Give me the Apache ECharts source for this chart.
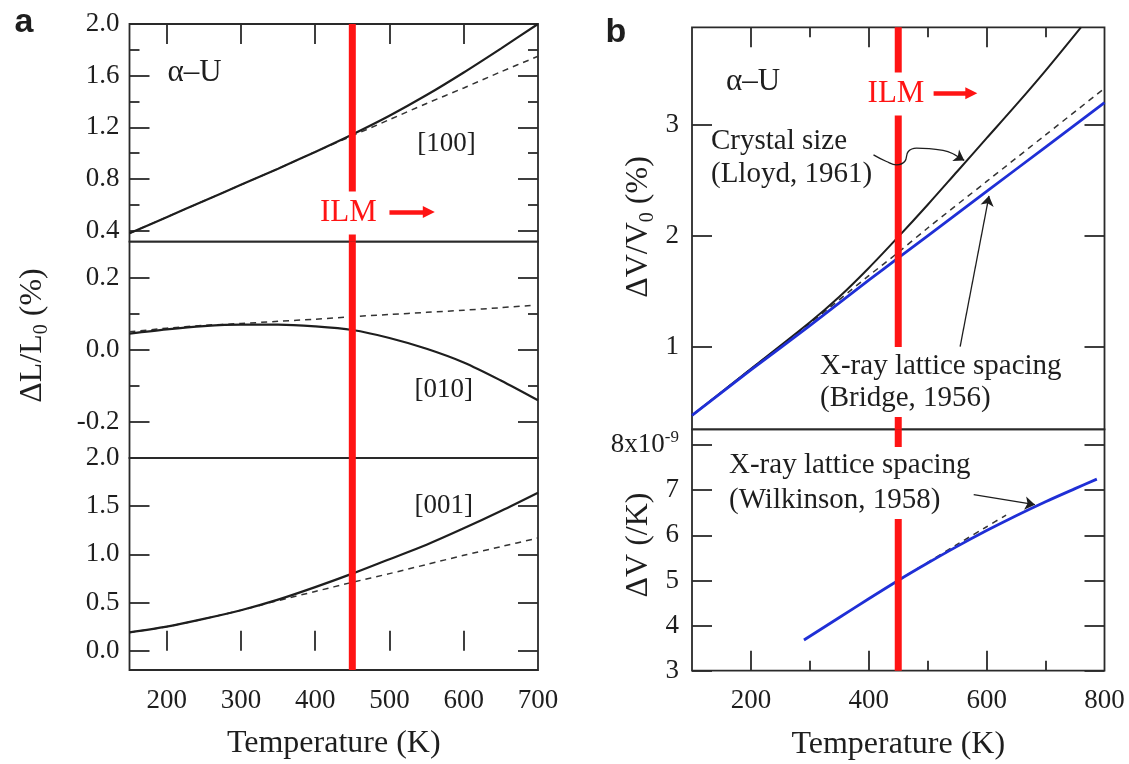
<!DOCTYPE html>
<html>
<head>
<meta charset="utf-8">
<script src="https://cdn.jsdelivr.net/npm/echarts@6/dist/echarts.min.js"></script>
<style>
  html, body { margin: 0; padding: 0; background: #ffffff; }
  #chart { width: 1129px; height: 764px; }
</style>
</head>
<body>
<div id="chart"></div>
<script>
// ---- alpha-U thermal expansion data ----
// (a) linear expansion dL/L0 (%) along the three crystal axes
const tempA = [150, 200, 250, 300, 350, 400, 450, 500, 550, 600, 650, 700];
const dL100 = [0.38, 0.505, 0.63, 0.755, 0.88, 1.01, 1.145, 1.29, 1.45, 1.625, 1.81, 2.0];
const dL100Lin = [0.38, 0.505, 0.63, 0.755, 0.88, 1.01, 1.135, 1.26, 1.385, 1.505, 1.63, 1.75];
const dL010 = [0.045, 0.057, 0.066, 0.070, 0.070, 0.065, 0.055, 0.033, 0.003, -0.035, -0.085, -0.14];
const temp010Lin = [150, 200, 250, 300, 350, 400, 450, 500, 550, 600, 650, 690];
const dL010Lin = [0.05, 0.06, 0.068, 0.073, 0.079, 0.085, 0.092, 0.098, 0.104, 0.110, 0.117, 0.123];
const dL001 = [0.19, 0.25, 0.33, 0.42, 0.53, 0.66, 0.80, 0.95, 1.10, 1.27, 1.45, 1.64];
const dL001Lin = [0.19, 0.25, 0.33, 0.42, 0.52, 0.615, 0.71, 0.80, 0.895, 0.99, 1.08, 1.17];

// (b) volume expansion dV/V0 (%) and volumetric coefficient dV (/K)
const tempLloyd = [100, 200, 300, 350, 400, 450, 500, 550, 600, 650, 700, 760];
const dVLloyd = [0.38, 0.80, 1.22, 1.45, 1.71, 1.99, 2.28, 2.58, 2.88, 3.18, 3.49, 3.88];
const tempBridge = [100, 200, 300, 400, 450, 500, 600, 700, 800];
const dVBridge = [0.38, 0.79, 1.19, 1.60, 1.80, 2.00, 2.40, 2.80, 3.20];
const dVBridgeLin = [0.38, 0.80, 1.21, 1.64, 1.85, 2.07, 2.49, 2.91, 3.33];
const tempWilk = [290, 350, 400, 450, 500, 550, 600, 650, 700, 750, 787];
const coefWilk = [3.68, 4.18, 4.595, 5.0, 5.385, 5.755, 6.105, 6.435, 6.745, 7.035, 7.245];
const tempWilkLin = [450, 500, 550, 600, 633];
const coefWilkLin = [5.0, 5.40, 5.80, 6.19, 6.45];

// onset temperature of the intrinsic localized modes
const ilmTemp = 450;

// tick values
const xTicksA = [200, 300, 400, 500, 600, 700];
const yTicks100 = [0.4, 0.8, 1.2, 1.6, 2.0];
const yMinor100 = [0.6, 1.0, 1.4, 1.8];
const yTicks010 = [-0.2, 0.0, 0.2];
const yMinor010 = [-0.1, 0.1];
const yTicks001 = [0.0, 0.5, 1.0, 1.5, 2.0];
const xTicksB = [200, 400, 600, 800];
const xMinorB = [300, 500, 700];
const yTicksB1 = [1, 2, 3];
const yTicksB2 = [3, 4, 5, 6, 7, 8];

// ---- styling ----
const SERIF = '"Liberation Serif", "Times New Roman", serif';
const INK = '#1e1e1e';
const RED = '#ff1414';
const BLUE = '#1f2fd6';

const rangeXA = [150, 700], rangeXB = [100, 800];
const rA1 = [0.315, 2.0], rA2 = [-0.3, 0.3], rA3 = [-0.2, 2.0];
const rB1 = [0.255, 3.88], rB2 = [3, 8.35];

const grids = [
  { left: 129.5, top: 24,    width: 408.5, height: 217.7 },
  { left: 129.5, top: 241.7, width: 408.5, height: 216.3 },
  { left: 129.5, top: 458,   width: 408.5, height: 212 },
  { left: 692,   top: 27.3,  width: 412.5, height: 402 },
  { left: 692,   top: 429.3, width: 412.5, height: 241.4 }
].map(g => Object.assign({ show: true, borderColor: '#2a2a2a', borderWidth: 1.8, backgroundColor: 'transparent' }, g));

const tickLine = { color: '#2a2a2a', width: 1.8 };
const labelFont = { fontFamily: SERIF, fontSize: 27, color: INK };

const xAxes = [], yAxes = [];
function addX(grid, range, pos, ticks, len, labels, extra) {
  xAxes.push(Object.assign({
    type: 'value', gridIndex: grid, min: range[0], max: range[1], position: pos,
    axisLine: { show: false }, splitLine: { show: false },
    axisTick: ticks ? { show: true, inside: true, length: len, customValues: ticks, lineStyle: tickLine } : { show: false },
    axisLabel: labels ? Object.assign({ show: true, customValues: labels, margin: 17 }, labelFont) : { show: false }
  }, extra || {}));
  return xAxes.length - 1;
}
function addY(grid, range, pos, ticks, len, labels, labelOpts) {
  yAxes.push({
    type: 'value', gridIndex: grid, min: range[0], max: range[1], position: pos,
    axisLine: { show: false }, splitLine: { show: false },
    axisTick: { show: true, inside: true, length: len, customValues: ticks, lineStyle: tickLine },
    axisLabel: labels ? Object.assign({ show: true, customValues: labels }, labelFont, labelOpts || {}) : { show: false }
  });
  return yAxes.length - 1;
}
const fmt1 = v => v.toFixed(1);
const nameStyle = { fontFamily: SERIF, fontSize: 32, color: INK };

// panel (a)
const xa1 = addX(0, rangeXA, 'top', xTicksA.slice(0, 5), 20);
const xa2 = addX(1, rangeXA, 'bottom', null);
const xa3 = addX(2, rangeXA, 'bottom', xTicksA.slice(0, 5), 20, xTicksA,
  { name: 'Temperature (K)', nameLocation: 'middle', nameGap: 58, nameTextStyle: nameStyle });
const ya1 = addY(0, rA1, 'left', yTicks100, 20, yTicks100, { formatter: fmt1, margin: 10 });
addY(0, rA1, 'left', yMinor100, 10);
addY(0, rA1, 'right', yTicks100, 20);
addY(0, rA1, 'right', yMinor100, 10);
const ya2 = addY(1, rA2, 'left', yTicks010, 20, yTicks010, { formatter: fmt1, margin: 10 });
addY(1, rA2, 'left', yMinor010, 10);
addY(1, rA2, 'right', yTicks010, 20);
addY(1, rA2, 'right', yMinor010, 10);
const ya3 = addY(2, rA3, 'left', yTicks001, 20, yTicks001, { formatter: fmt1, margin: 10 });
addY(2, rA3, 'right', yTicks001, 20);

// panel (b)
const xb1 = addX(3, rangeXB, 'top', xTicksB.slice(0, 3), 20);
addX(3, rangeXB, 'top', xMinorB, 10);
const xb2 = addX(4, rangeXB, 'bottom', xTicksB.slice(0, 3), 20, xTicksB,
  { name: 'Temperature (K)', nameLocation: 'middle', nameGap: 58, nameTextStyle: nameStyle });
addX(4, rangeXB, 'bottom', xMinorB, 10);
const yb1 = addY(3, rB1, 'left', yTicksB1, 20, yTicksB1, { margin: 13 });
addY(3, rB1, 'right', yTicksB1, 20);
const yb2 = addY(4, rB2, 'left', yTicksB2, 20, yTicksB2, {
  margin: 13,
  formatter: v => v === 8 ? '{m|8x10}{s|-9}' : String(v),
  rich: {
    m: { fontFamily: SERIF, fontSize: 27, color: INK },
    s: { fontFamily: SERIF, fontSize: 17, color: INK, verticalAlign: 'bottom', padding: [0, 0, 16, 0] }
  }
});
addY(4, rB2, 'right', yTicksB2, 20);

// ---- series ----
const zip = (xs, ys) => xs.map((x, i) => [x, ys[i]]);
function curve(xi, yi, xs, ys, color, width, dashed) {
  return {
    type: 'line', xAxisIndex: xi, yAxisIndex: yi, data: zip(xs, ys),
    symbol: 'none', smooth: 0.3, z: dashed ? 3 : 4, silent: true,
    lineStyle: { color, width, type: dashed ? [6, 5] : 'solid' }
  };
}
function ilmLine(xi, yi, range) {
  return {
    type: 'line', xAxisIndex: xi, yAxisIndex: yi, symbol: 'none', z: 6, silent: true,
    data: [[ilmTemp, range[0]], [ilmTemp, range[1]]],
    lineStyle: { color: RED, width: 7 }
  };
}
function arrow(xi, yi, from, to, color, width, shape, size) {
  return {
    type: 'lines', coordinateSystem: 'cartesian2d', xAxisIndex: xi, yAxisIndex: yi, z: 7, silent: true,
    symbol: ['none', shape], symbolSize: size,
    lineStyle: { color, width, opacity: 1, curveness: 0 },
    data: [{ coords: [from, to] }]
  };
}

const series = [
  curve(xa1, ya1, tempA, dL100Lin, '#333', 1.5, true),
  curve(xa1, ya1, tempA, dL100, INK, 2.2),
  curve(xa2, ya2, temp010Lin, dL010Lin, '#333', 1.5, true),
  curve(xa2, ya2, tempA, dL010, INK, 2.2),
  curve(xa3, ya3, tempA, dL001Lin, '#333', 1.5, true),
  curve(xa3, ya3, tempA, dL001, INK, 2.2),
  curve(xb1, yb1, tempBridge, dVBridgeLin, '#333', 1.5, true),
  curve(xb1, yb1, tempLloyd, dVLloyd, INK, 2.0),
  curve(xb1, yb1, tempBridge, dVBridge, BLUE, 2.8),
  curve(xb2, yb2, tempWilkLin, coefWilkLin, '#333', 1.5, true),
  curve(xb2, yb2, tempWilk, coefWilk, BLUE, 2.8),
  ilmLine(xa1, ya1, rA1),
  ilmLine(xa2, ya2, rA2),
  ilmLine(xa3, ya3, rA3),
  ilmLine(xb1, yb1, rB1),
  ilmLine(xb2, yb2, rB2),
  // "ILM ->" arrows
  arrow(xa1, ya1, [500, 0.545], [553, 0.545], RED, 4.5, 'triangle', 12),
  arrow(xb1, yb1, [510, 3.286], [574, 3.286], RED, 4.5, 'triangle', 12),
  // leader from "Crystal size" label to the Lloyd curve
  {
    type: 'line', xAxisIndex: xb1, yAxisIndex: yb1, symbol: 'none', smooth: 0.45, z: 7, silent: true,
    data: [[408, 2.73], [430, 2.67], [447, 2.64], [461, 2.67], [467, 2.76], [481, 2.79], [526, 2.77], [543, 2.74]],
    lineStyle: { color: INK, width: 1.3 }
  },
  arrow(xb1, yb1, [543, 2.74], [562, 2.68], INK, 1.3, 'arrow', 10),
  // leader to the Bridge curve
  arrow(xb1, yb1, [555, 1.0], [604, 2.36], INK, 1.3, 'arrow', 10),
  // leader to the Wilkinson curve
  arrow(xb2, yb2, [578, 6.90], [682, 6.68], INK, 1.3, 'arrow', 10)
];

// ---- text annotations ----
function txt(x, y, text, o) {
  return Object.assign({
    type: 'text', x, y, z: 100, silent: true,
    style: Object.assign({ text, fontFamily: SERIF, fontSize: 29, fill: INK, align: 'left', verticalAlign: 'middle' }, (o && o.style) || {})
  }, o && o.rotation !== undefined ? { rotation: o.rotation } : {});
}
const subRich = {
  n: { fontFamily: SERIF, fontSize: 32, color: INK },
  s: { fontFamily: SERIF, fontSize: 20, color: INK, verticalAlign: 'top', padding: [18, 0, 0, 0] }
};
const graphic = [
  txt(24, 23, 'a', { style: { fontFamily: '"Liberation Sans", Arial, sans-serif', fontWeight: 'bold', fontSize: 34, align: 'center' } }),
  txt(616, 33, 'b', { style: { fontFamily: '"Liberation Sans", Arial, sans-serif', fontWeight: 'bold', fontSize: 34, align: 'center' } }),
  txt(194.6, 72.5, 'α–U', { style: { fontSize: 31, align: 'center' } }),
  txt(753, 81.7, 'α–U', { style: { fontSize: 31, align: 'center' } }),
  txt(446.5, 143.5, '[100]', { style: { fontSize: 27, align: 'center' } }),
  txt(443.7, 390, '[010]', { style: { fontSize: 27, align: 'center' } }),
  txt(443.7, 505.8, '[001]', { style: { fontSize: 27, align: 'center' } }),
  txt(348.4, 213, 'ILM', { style: { fontSize: 31, fill: RED, align: 'center', backgroundColor: '#fff', padding: [6, 2, 6, 2] } }),
  txt(896, 94, 'ILM', { style: { fontSize: 31, fill: RED, align: 'center', backgroundColor: '#fff', padding: [6, 2, 6, 2] } }),
  txt(711, 141.7, 'Crystal size'),
  txt(711, 174, '(Lloyd, 1961)'),
  txt(820, 382, 'X-ray lattice spacing\n(Bridge, 1956)', { style: { lineHeight: 32, backgroundColor: '#fff', padding: [3, 0, 3, 0] } }),
  txt(729, 483, 'X-ray lattice spacing\n(Wilkinson, 1958)', { style: { lineHeight: 35, backgroundColor: '#fff', padding: [1, 0, 1, 0] } }),
  txt(33, 335.5, '{n|ΔL/L}{s|0}{n| (%)}', { rotation: Math.PI / 2, style: { align: 'center', rich: subRich } }),
  txt(639, 227, '{n|ΔV/V}{s|0}{n| (%)}', { rotation: Math.PI / 2, style: { align: 'center', rich: subRich } }),
  txt(639, 545, 'ΔV (/K)', { rotation: Math.PI / 2, style: { fontSize: 32, align: 'center' } })
];

const chart = echarts.init(document.getElementById('chart'), null, { renderer: 'canvas' });
chart.setOption({
  animation: false,
  backgroundColor: '#ffffff',
  grid: grids,
  xAxis: xAxes,
  yAxis: yAxes,
  series,
  graphic
});
</script>
</body>
</html>
